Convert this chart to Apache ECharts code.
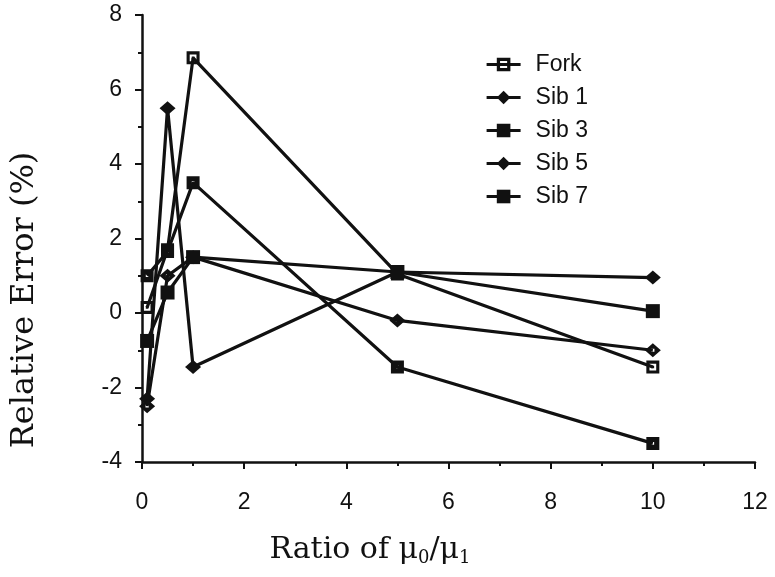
<!DOCTYPE html>
<html>
<head>
<meta charset="utf-8">
<script src="https://cdn.jsdelivr.net/npm/echarts@6/dist/echarts.min.js"></script>
<style>
    html, body { margin: 0; padding: 0; background: #fff; }
    #chart { width: 775px; height: 577px; }
</style>
</head>
<body>
<div id="chart"></div>
<script>
    // ratio mu0/mu1 at which each model was run
    var ratios = [0.1, 0.5, 1, 5, 10];

    // relative error (%)
    var fork = [0.15, 1.7, 6.85, 1.05, -1.45];
    var sib1 = [-2.3, 5.5, -1.45, 1.1, 0.95];
    var sib3 = [1.0, 1.65, 3.5, -1.45, -3.5];
    var sib5 = [-2.5, 1.0, 1.5, -0.2, -1.0];
    var sib7 = [-0.75, 0.55, 1.5, 1.1, 0.05];

    var xTicks = [0, 2, 4, 6, 8, 10, 12];
    var yTicks = [-4, -2, 0, 2, 4, 6, 8];

    function pairs(vals) {
        return ratios.map(function (x, i) { return [x, vals[i]]; });
    }

    var ink = '#111';
    var sans = 'Liberation Sans';
    var serif = 'DejaVu Serif';

    function line(name, vals, symbol, size) {
        return {
            name: name,
            type: 'line',
            data: pairs(vals),
            symbol: symbol,
            symbolSize: size,
            lineStyle: { color: ink, width: 3.2 },
            itemStyle: { color: ink, borderWidth: 0 },
            emphasis: { disabled: true },
            animation: false
        };
    }

    var chart = echarts.init(document.getElementById('chart'));
    var option = {
        backgroundColor: '#fff',
        grid: { left: 142, right: 20, top: 15, bottom: 115 },
        legend: {
            orient: 'vertical',
            left: 480,
            top: 48,
            itemWidth: 34,
            itemHeight: 17,
            itemGap: 10,
            lineStyle: { width: 3.2, color: ink },
            textStyle: { color: ink, fontSize: 23, fontFamily: sans, padding: [0, 0, 0, 10] },
            data: ['Fork', 'Sib 1', 'Sib 3', 'Sib 5', 'Sib 7']
        },
        xAxis: {
            type: 'value',
            min: xTicks[0],
            max: xTicks[xTicks.length - 1],
            interval: 2,
            splitLine: { show: false },
            axisLine: { onZero: false, lineStyle: { color: ink, width: 2.5 } },
            axisTick: { length: 7, lineStyle: { color: ink, width: 2 } },
            minorTick: { show: true, splitNumber: 2, length: 4, lineStyle: { color: ink, width: 2 } },
            axisLabel: { color: ink, fontSize: 23, fontFamily: sans, margin: 29 }
        },
        yAxis: {
            type: 'value',
            min: yTicks[0],
            max: yTicks[yTicks.length - 1],
            interval: 2,
            splitLine: { show: false },
            axisLine: { onZero: false, lineStyle: { color: ink, width: 2.5 } },
            axisTick: { length: 7, lineStyle: { color: ink, width: 2 } },
            minorTick: { show: true, splitNumber: 2, length: 4, lineStyle: { color: ink, width: 2 } },
            axisLabel: { color: ink, fontSize: 23, fontFamily: sans, margin: 20 }
        },
        // axis titles sit off-centre in the original, so place them by hand
        graphic: [
            {
                type: 'text',
                x: 370,
                y: 550,
                style: {
                    text: 'Ratio of {m|μ}{s|0}{m|/}{m|μ}{s|1}',
                    fill: ink,
                    font: '30px "DejaVu Serif"',
                    align: 'center',
                    verticalAlign: 'middle',
                    rich: {
                        m: { fontSize: 30, fontFamily: serif, fill: ink },
                        s: { fontSize: 18, fontFamily: serif, fill: ink, padding: [16, 0, 0, 0] }
                    }
                }
            },
            {
                type: 'text',
                x: 25,
                y: 300,
                rotation: Math.PI / 2,
                style: {
                    text: 'Relative Error (%)',
                    fill: ink,
                    font: '32px "DejaVu Serif"',
                    align: 'center',
                    verticalAlign: 'middle'
                }
            }
        ],
        series: [
            line('Fork', fork, 'path://M0,0H10V10H0ZM2.4,2.4V7.6H7.6V2.4ZM4,4H6V6H4Z', 13),
            line('Sib 1', sib1, 'diamond', [16, 14]),
            line('Sib 3', sib3, 'path://M0,0H10V10H0ZM4,4V6H6V4Z', 13),
            line('Sib 5', sib5, 'path://M5,0L10,5L5,10L0,5ZM4,4V6H6V4Z', [16, 14]),
            line('Sib 7', sib7, 'rect', 14)
        ]
    };
    chart.setOption(option);
</script>
</body>
</html>
